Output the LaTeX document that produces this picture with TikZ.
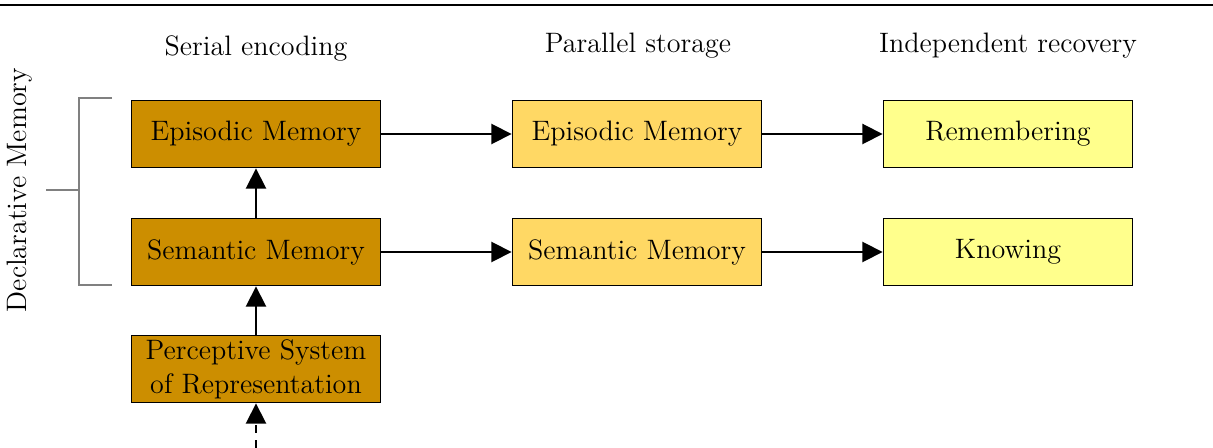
\documentclass[tikz,border=0pt]{standalone}
\usepackage{tikz}
\usepackage{xcolor}
\usetikzlibrary{arrows.meta}

\definecolor{encodecol}{RGB}{204,142,0}
\definecolor{storecol}{RGB}{255,216,100}
\definecolor{recovcol}{RGB}{255,255,140}
\newcommand{\memfont}{\fontsize{11.2}{13.6}\selectfont}

\begin{document}
\begin{tikzpicture}[x=0.014cm,y=0.014cm]
      \tikzstyle{every node}+=[inner sep=0pt,font=\memfont]
      \tikzstyle{membox}=[draw=black,line width=0.75pt,minimum width=249*0.014cm,minimum height=67*0.014cm,align=center]
      \tikzstyle{link}=[line width=0.7pt,-{Triangle[length=8pt,width=8pt]}]
      \useasboundingbox (0,0) rectangle (1213,-448);
      \draw [black,line width=1pt] (0,-5) -- (1213,-5);
      \draw (256,-48) node (hser) {Serial encoding};
      \draw (638,-46) node (hpar) {Parallel storage};
      \draw (1008,-46) node (hind) {Independent recovery};
      \node [membox,fill=encodecol] (epienc) at (256,-134) {Episodic Memory};
      \node [membox,fill=encodecol] (semenc) at (256,-252) {Semantic Memory};
      \node [membox,fill=encodecol] (perc) at (256,-369) {Perceptive System\\of Representation};
      \node [membox,fill=storecol] (epista) at (637,-134) {Episodic Memory};
      \node [membox,fill=storecol] (semsta) at (637,-252) {Semantic Memory};
      \node [membox,fill=recovcol] (remem) at (1008,-134) {Remembering};
      \node [membox,fill=recovcol] (know) at (1008,-252) {Knowing};
      \coordinate (input) at (256,-448);
      \draw [link] (epienc) -- (epista);
      \draw [link] (epista) -- (remem);
      \draw [link] (semenc) -- (semsta);
      \draw [link] (semsta) -- (know);
      \draw [link] (semenc) -- (epienc);
      \draw [link] (perc) -- (semenc);
      \draw [link,dashed] (input) -- (perc);
      % bracket for declarative memory
      \draw [gray] (112,-98) -- (79,-98) -- (79,-285) -- (112,-285);
      \draw [gray] (46,-190) -- (79,-190);
      \draw (20,-190) node [rotate=90] (decl) {Declarative Memory};
    \end{tikzpicture}
\end{document}
